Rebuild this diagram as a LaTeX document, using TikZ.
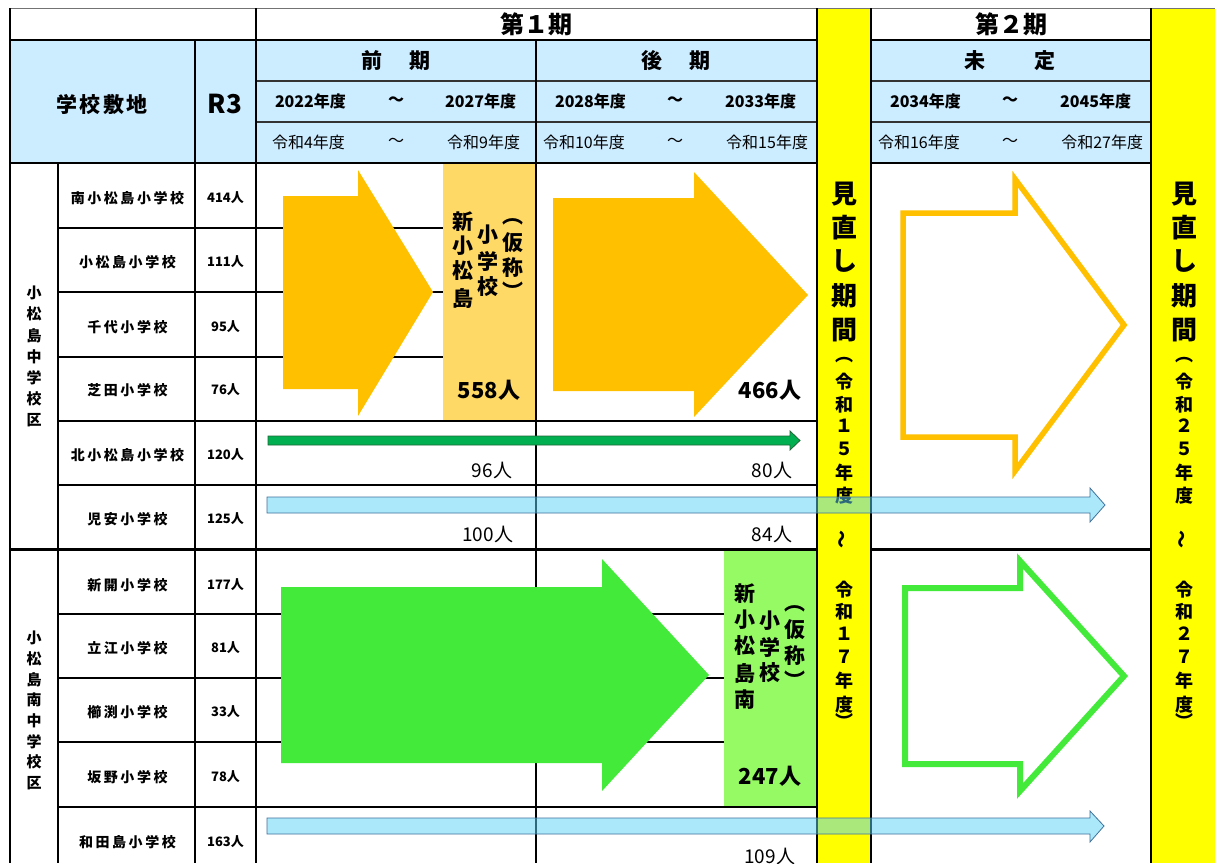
\documentclass[tikz,border=0pt]{standalone}
\usepackage{fontspec}
\setmainfont{Noto Sans CJK JP}
\XeTeXuseglyphmetrics=1
\definecolor{headblue}{RGB}{204,236,255}
\definecolor{orangeA}{RGB}{255,192,0}
\definecolor{orangeBox}{RGB}{255,217,102}
\definecolor{greenA}{RGB}{68,234,58}
\definecolor{greenBox}{RGB}{150,250,100}
\definecolor{greenThin}{RGB}{0,176,80}
\definecolor{greenLine}{RGB}{30,100,55}
\definecolor{blueFill}{RGB}{89,211,247}
\definecolor{blueLine}{RGB}{65,113,156}
\definecolor{yel}{RGB}{255,255,0}
\newcommand\vchars[4]{\foreach \yy/\cc [count=\k] in {#4} {\node[#3] (#1\k) at (#2,\yy) {\cc};}}
\begin{document}
\begin{tikzpicture}[x=1pt,y=-1pt,
  every node/.style={inner sep=0pt,outer sep=0pt},
  bf/.style={font=\fontsize{#1}{#1}\selectfont\bfseries},
  rg/.style={font=\fontsize{#1}{#1}\selectfont},
  sch/.style={font=\fontsize{14}{14}\selectfont\bfseries\addfontfeature{LetterSpace=18}},
  thn/.style={line width=1.1pt,black},
  thk/.style={line width=2pt,black},
  vl/.style={line width=1.7pt,black},
  blockfill/.style={fill=#1},
  blockline/.style={draw=#1,line width=5.5pt,miter limit=10},
  bluearrow/.style={fill=blueFill,fill opacity=0.5,draw=blueLine,line width=0.8pt}
]
\useasboundingbox (0,0) rectangle (1215,863);
\fill[white] (0,0) rectangle (1215,863);
% background fills
\fill[headblue] (10,40) rectangle (817,163);
\fill[headblue] (871,40) rectangle (1151,163);
\fill[yel] (817,8) rectangle (871,863);
\fill[yel] (1151,8) rectangle (1215,863);
\fill[orangeBox] (443,163) rectangle (536,421);
\fill[greenBox] (724,550) rectangle (817,807);
% horizontal lines
\draw[line width=0.8pt,black!55] (10,8) -- (1215,8);
\draw[thk] (10,40) -- (817,40) (871,40) -- (1151,40);
\draw[thn,black!80] (256,81) -- (817,81) (871,81) -- (1151,81);
\draw[thn,black!80] (256,122) -- (817,122) (871,122) -- (1151,122);
\draw[thk] (10,163) -- (817,163) (871,163) -- (1151,163);
\foreach \yy in {228,292,357} \draw[thn] (58,\yy) -- (443,\yy);
\foreach \yy in {421,485,807} \draw[thn] (58,\yy) -- (817,\yy);
\draw[line width=2.6pt] (10,549.5) -- (817,549.5) (871,549.5) -- (1151,549.5);
\foreach \yy in {614,678,742} \draw[thn] (58,\yy) -- (724,\yy);
% vertical lines
\draw[vl] (10,8) -- (10,863);
\draw[vl] (58,163) -- (58,863);
\draw[vl] (195,40) -- (195,863);
\draw[vl] (256,8) -- (256,863);
\draw[vl] (536,40) -- (536,863);
\draw[vl] (817,8) -- (817,863);
\draw[vl] (871,8) -- (871,863);
\draw[vl] (1151,8) -- (1151,863);
% block arrows
\fill[blockfill=orangeA] (283,196) -- (358,196) -- (358,170) -- (433,292) -- (358,416) -- (358,389) -- (283,389) -- cycle;
\fill[blockfill=orangeA] (553,198) -- (694,198) -- (694,172) -- (808,295) -- (694,417) -- (694,391) -- (553,391) -- cycle;
\draw[blockline=orangeA] (903,213) -- (1015,213) -- (1015,179) -- (1124,325) -- (1015,471) -- (1015,437) -- (903,437) -- cycle;
\fill[blockfill=greenA] (281,587) -- (602,587) -- (602,559) -- (709,675) -- (602,791) -- (602,763) -- (281,763) -- cycle;
\draw[blockline=greenA,line width=6pt] (905,588) -- (1020,588) -- (1020,561) -- (1124,676) -- (1020,791) -- (1020,764) -- (905,764) -- cycle;
\draw[fill=greenThin,draw=greenLine,line width=0.8pt] (268,436) -- (790,436) -- (790,431) -- (800,440.5) -- (790,450) -- (790,445) -- (268,445) -- cycle;
% header texts
\node[bf=24] (t1) at (536,24) {第１期};
\node[bf=24] (t2) at (1011,24) {第２期};
\node[font=\fontsize{21}{21}\selectfont\bfseries\addfontfeature{LetterSpace=12}] (h1) at (102,104) {学校敷地};
\node[bf=26] (h2) at (225,104) {R3};
\node[bf=21] (p1) at (396,61) {前\hspace{27pt}期};
\node[bf=21] (p2) at (676,61) {後\hspace{27pt}期};
\node[bf=21] (p3) at (1010,61) {未\hspace{49pt}定};
\node[bf=16,anchor=west] (ya) at (275,101.5) {2022年度};
\node[bf=16] (yb) at (396,101.5) {～};
\node[bf=16,anchor=east] (yc) at (516,101.5) {2027年度};
\node[bf=16,anchor=west] (yd) at (555,101.5) {2028年度};
\node[bf=16] (ye) at (675,101.5) {～};
\node[bf=16,anchor=east] (yf) at (796,101.5) {2033年度};
\node[bf=16,anchor=west] (yg) at (890,101.5) {2034年度};
\node[bf=16] (yh) at (1010,101.5) {～};
\node[bf=16,anchor=east] (yi) at (1131,101.5) {2045年度};
\node[rg=16,anchor=west] (ra) at (272,142.5) {令和4年度};
\node[rg=16] (rb) at (396,142.5) {～};
\node[rg=16,anchor=east] (rc) at (520,142.5) {令和9年度};
\node[rg=16,anchor=west] (rd) at (543,142.5) {令和10年度};
\node[rg=16] (re) at (675,142.5) {～};
\node[rg=16,anchor=east] (rf) at (808,142.5) {令和15年度};
\node[rg=16,anchor=west] (rg1) at (878,142.5) {令和16年度};
\node[rg=16] (rh) at (1010,142.5) {～};
\node[rg=16,anchor=east] (ri) at (1143,142.5) {令和27年度};
% school rows
\foreach \nm/\cn/\yy [count=\k] in {南小松島小学校/414人/198,小松島小学校/111人/262,千代小学校/95人/327,芝田小学校/76人/390,北小松島小学校/120人/455,児安小学校/125人/519,新開小学校/177人/585,立江小学校/81人/648,櫛渕小学校/33人/712,坂野小学校/78人/777,和田島小学校/163人/842} {
  \node[sch] (s\k) at (127.5,\yy) {\nm};
  \node[bf=13] (c\k) at (225.5,\yy) {\cn};
}
% districts
\foreach \cc [count=\k] in {小,松,島,中,学,校,区} \node[bf=15] (da\k) at (34,{293+21.2*(\k-1)}) {\cc};
\foreach \cc [count=\k] in {小,松,島,南,中,学,校,区} \node[bf=15] (db\k) at (34,{638+20.7*(\k-1)}) {\cc};
% new school boxes
\vchars{oa}{463}{bf=21}{222/新,246/小,271/松,298/島}
\vchars{ob}{488}{bf=21}{235/小,261/学,287/校}
\vchars{oc}{513}{bf=21}{222/︵,243/仮,268/称,291/︶}
\node[bf=22] (n558) at (489,390) {558人};
\node[bf=22] (n466) at (770,390) {466人};
\vchars{ga}{745}{bf=21}{594/新,620/小,646/松,673/島,700/南}
\vchars{gb}{770}{bf=21}{621/小,647/学,673/校}
\vchars{gc}{795}{bf=21}{609/︵,630/仮,656/称,680/︶}
\node[bf=22] (n247) at (770,776) {247人};
\node[rg=19,anchor=east] (n96) at (512,470) {96人};
\node[rg=19,anchor=east] (n80) at (792,470) {80人};
\node[rg=19,anchor=east] (n100) at (513,534) {100人};
\node[rg=19,anchor=east] (n84) at (792,534) {84人};
\node[rg=19,anchor=east] (n109) at (795,856) {109人};
% yellow columns
\vchars{yA}{844}{bf=26}{194/見,228/直,261/し,296/期,330/間}
\vchars{yB}{844}{bf=18}{360/︵,382/令,405/和,426/１,449/５,473/年,496/度}
\node[bf=18,rotate=90] (yT) at (844,539) {～};
\vchars{yC}{844}{bf=18}{590/令,612/和,634/１,657/７,681/年,705/度,721/︶}
\vchars{zA}{1184}{bf=26}{194/見,228/直,261/し,296/期,330/間}
\vchars{zB}{1184}{bf=18}{360/︵,382/令,405/和,426/２,449/５,473/年,496/度}
\node[bf=18,rotate=90] (zT) at (1184,539) {～};
\vchars{zC}{1184}{bf=18}{590/令,612/和,634/２,657/７,681/年,705/度,721/︶}
% light blue arrows
\draw[bluearrow] (267,497) -- (1090,497) -- (1090,488) -- (1105,505) -- (1090,522) -- (1090,513) -- (267,513) -- cycle;
\draw[bluearrow] (267,818) -- (1090,818) -- (1090,811) -- (1104,826) -- (1090,842) -- (1090,834) -- (267,834) -- cycle;
\end{tikzpicture}
\end{document}
